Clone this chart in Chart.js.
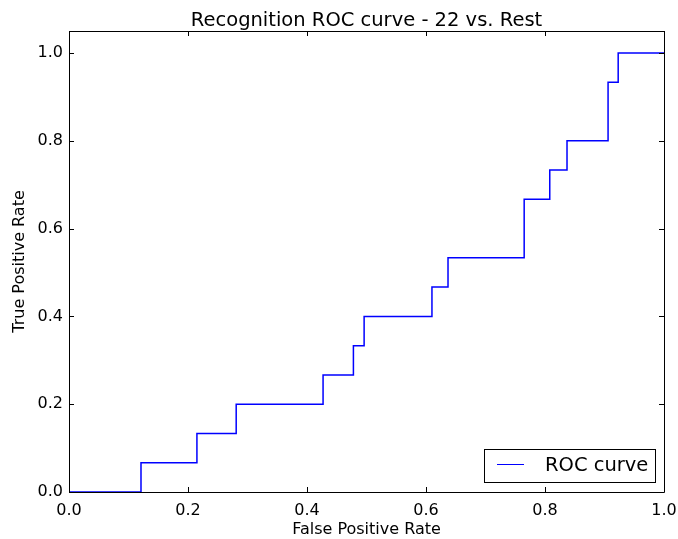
<!DOCTYPE html>
<html>
<head>
<meta charset="utf-8">
<script src="https://cdn.jsdelivr.net/npm/chart.js@4/dist/chart.umd.min.js"></script>
<style>
html,body{margin:0;padding:0;background:#fff;}
#wrap{width:678px;height:539px;position:relative;}
</style>
</head>
<body>
<div id="wrap"><canvas id="c" width="678" height="539"></canvas></div>
<script>
const chartTitle = "Recognition ROC curve - 22 vs. Rest";
const xTitle = "False Positive Rate";
const yTitle = "True Positive Rate";
const seriesLabel = "ROC curve";
const fpr = [0.0, 0.121, 0.121, 0.215, 0.215, 0.281, 0.281, 0.427, 0.427, 0.478, 0.478, 0.496, 0.496, 0.610, 0.610, 0.637, 0.637, 0.765, 0.765, 0.808, 0.808, 0.837, 0.837, 0.906, 0.906, 0.923, 0.923, 1.0];
const tpr = [0.0, 0.0, 0.0667, 0.0667, 0.1333, 0.1333, 0.2, 0.2, 0.2667, 0.2667, 0.3333, 0.3333, 0.4, 0.4, 0.4667, 0.4667, 0.5333, 0.5333, 0.6667, 0.6667, 0.7333, 0.7333, 0.8, 0.8, 0.9333, 0.9333, 1.0, 1.0];
const xTicks = [0.0, 0.2, 0.4, 0.6, 0.8, 1.0];
const yTicks = [0.0, 0.2, 0.4, 0.6, 0.8, 1.0];

const FONT = "'DejaVu Sans', sans-serif";
const points = fpr.map((x, i) => ({x: x, y: tpr[i]}));

const framePlugin = {
  id: 'frame',
  afterDraw(chart) {
    const ctx = chart.ctx;
    const a = chart.chartArea;
    const xs = chart.scales.x, ys = chart.scales.y;
    ctx.save();
    ctx.strokeStyle = '#000';
    ctx.lineWidth = 1;
    ctx.beginPath();
    ctx.rect(Math.round(a.left) + 0.5, Math.round(a.top) + 0.5, Math.round(a.right - a.left), Math.round(a.bottom - a.top));
    ctx.stroke();
    const L = 5;
    ctx.beginPath();
    xTicks.forEach(v => {
      const px = Math.round(xs.getPixelForValue(v)) + 0.5;
      ctx.moveTo(px, a.bottom); ctx.lineTo(px, a.bottom - L);
      ctx.moveTo(px, a.top); ctx.lineTo(px, a.top + L);
    });
    yTicks.forEach(v => {
      const py = Math.round(ys.getPixelForValue(v)) + 0.5;
      ctx.moveTo(a.left, py); ctx.lineTo(a.left + L, py);
      ctx.moveTo(a.right, py); ctx.lineTo(a.right - L, py);
    });
    ctx.stroke();
    // title
    ctx.fillStyle = '#000';
    ctx.font = "19.5px " + FONT;
    ctx.textAlign = 'center';
    ctx.textBaseline = 'alphabetic';
    ctx.fillText(chartTitle, (a.left + a.right) / 2, 25.5);
    // legend
    const bx = 484.5, by = 449.5, bw = 171, bh = 33;
    ctx.fillStyle = '#fff';
    ctx.fillRect(bx, by, bw, bh);
    ctx.strokeStyle = '#000';
    ctx.strokeRect(bx, by, bw, bh);
    ctx.strokeStyle = '#0000ff';
    ctx.lineWidth = 1;
    ctx.beginPath();
    ctx.moveTo(497, 464.5); ctx.lineTo(524, 464.5);
    ctx.stroke();
    ctx.fillStyle = '#000';
    ctx.font = "19.5px " + FONT;
    ctx.textAlign = 'left';
    ctx.textBaseline = 'alphabetic';
    ctx.fillText(seriesLabel, 545, 471);
    ctx.restore();
  }
};

new Chart(document.getElementById('c'), {
  type: 'line',
  data: {
    datasets: [{
      label: seriesLabel,
      data: points,
      borderColor: '#0000ff',
      borderWidth: 1.5,
      pointRadius: 0,
      fill: false,
      tension: 0
    }]
  },
  options: {
    responsive: false,
    animation: false,
    layout: {padding: {left: 0, right: 14, top: 31, bottom: 0}},
    plugins: {legend: {display: false}, title: {display: false}, tooltip: {enabled: false}},
    scales: {
      x: {
        type: 'linear', min: 0, max: 1,
        afterBuildTicks: s => { s.ticks = xTicks.map(v => ({value: v})); },
        afterFit: s => { s.height = 47; s.paddingLeft = 0; s.paddingRight = 0; },
        grid: {display: false, drawTicks: false},
        border: {display: false},
        ticks: {color: '#000', font: {family: FONT, size: 16}, padding: 9, maxRotation: 0,
                callback: v => Number(v).toFixed(1)},
        title: {display: true, text: xTitle, color: '#000', font: {family: FONT, size: 16}, padding: {top: 0, bottom: 0}}
      },
      y: {
        type: 'linear', min: 0, max: 1.05,
        afterBuildTicks: s => { s.ticks = yTicks.map(v => ({value: v})); },
        afterFit: s => { s.width = 69; s.paddingTop = 0; s.paddingBottom = 0; },
        grid: {display: false, drawTicks: false},
        border: {display: false},
        ticks: {color: '#000', font: {family: FONT, size: 16}, padding: 6,
                callback: v => Number(v).toFixed(1)},
        title: {display: true, text: yTitle, color: '#000', font: {family: FONT, size: 16}, padding: {top: 10, bottom: 0}}
      }
    }
  },
  plugins: [framePlugin]
});
</script>
</body>
</html>
